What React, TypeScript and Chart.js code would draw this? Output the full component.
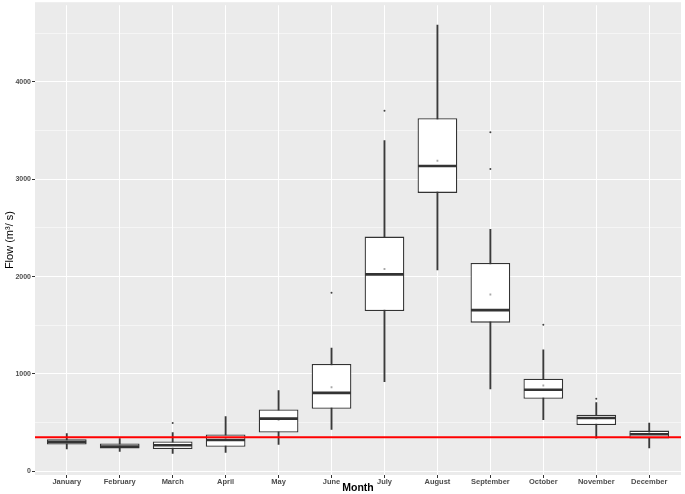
import React, { useEffect, useRef } from "react";
import { Chart, registerables } from "chart.js";

Chart.register(...registerables);

const months = [
  "January", "February", "March", "April", "May", "June",
  "July", "August", "September", "October", "November", "December",
];
const lowerWhisker = [231, 204, 184, 194, 276, 429, 921, 2068, 847, 531, 340, 241];
const q1 = [276, 235, 228, 251, 398, 643, 1646, 2860, 1527, 745, 476, 337];
const medians = [302, 255, 268, 322, 541, 806, 2023, 3136, 1656, 837, 547, 381];
const q3 = [330, 286, 306, 378, 636, 1102, 2411, 3626, 2139, 952, 582, 418];
const upperWhisker = [388, 337, 398, 561, 830, 1265, 3398, 4585, 2486, 1248, 707, 496];
const means = [305, 258, 272, 337, 530, 863, 2078, 3190, 1816, 881, 541, 394];
const outlierMonthIndex = [2, 5, 6, 8, 8, 9, 10];
const outlierValues = [496, 1833, 3704, 3483, 3105, 1506, 745];
const thresholdValue = 350;
const yTickValues = [0, 500, 1000, 1500, 2000, 2500, 3000, 3500, 4000, 4500];
const yLabelValues = [0, 1000, 2000, 3000, 4000];

const FONT = "'Liberation Sans', Arial, sans-serif";

const boxExtras = {
  id: "boxExtras",
  beforeDraw(chart: any) {
    const { ctx, chartArea } = chart;
    const top = Math.max(1, chartArea.top - 3);
    ctx.save();
    ctx.fillStyle = "#EBEBEB";
    ctx.fillRect(chartArea.left, top, chartArea.right - chartArea.left, chartArea.bottom - top);
    ctx.restore();
  },
  afterDatasetsDraw(chart: any) {
    const { ctx, chartArea, scales } = chart;
    const y = scales.y;
    const boxMeta = chart.getDatasetMeta(1);
    ctx.save();
    ctx.strokeStyle = "#333333";
    ctx.lineWidth = 2.6;
    boxMeta.data.forEach((el: any, i: number) => {
      const { x, width } = el.getProps(["x", "width"], true);
      const py = y.getPixelForValue(medians[i]);
      ctx.beginPath();
      ctx.moveTo(x - width / 2 + 0.5, py);
      ctx.lineTo(x + width / 2 - 0.5, py);
      ctx.stroke();
    });
    const ry = y.getPixelForValue(thresholdValue);
    ctx.strokeStyle = "#FF0000";
    ctx.lineWidth = 2.2;
    ctx.beginPath();
    ctx.moveTo(chartArea.left, ry);
    ctx.lineTo(chartArea.right, ry);
    ctx.stroke();
    ctx.restore();
  },
};

export default function App() {
  const canvasRef = useRef<HTMLCanvasElement | null>(null);

  useEffect(() => {
    document.body.style.margin = "0";
    const canvas = canvasRef.current;
    if (!canvas) return;
    const chart = new Chart(canvas, {
      type: "bar",
      data: {
        datasets: [
          {
            type: "bar",
            label: "whisker",
            data: months.map((_, i) => ({ x: i, y: [lowerWhisker[i], upperWhisker[i]] })) as any,
            backgroundColor: "#3A3A3A",
            barThickness: 1.2,
            grouped: false,
            order: 3,
          },
          {
            type: "bar",
            label: "box",
            data: months.map((_, i) => ({ x: i, y: [q1[i], q3[i]] })) as any,
            backgroundColor: "#FFFFFF",
            borderColor: "#333333",
            borderWidth: 1.3,
            borderSkipped: false,
            barPercentage: 0.75,
            categoryPercentage: 1,
            grouped: false,
            order: 2,
          },
          {
            type: "line",
            label: "mean",
            data: months.map((_, i) => ({ x: i, y: means[i] })) as any,
            showLine: false,
            pointStyle: "rect",
            pointRadius: 1.3,
            pointBorderWidth: 0,
            pointBackgroundColor: "#A8A8A8",
            order: 1,
          },
          {
            type: "line",
            label: "outliers",
            data: outlierValues.map((v, i) => ({ x: outlierMonthIndex[i], y: v })) as any,
            showLine: false,
            pointRadius: 1,
            pointBorderWidth: 0,
            pointBackgroundColor: "#444444",
            order: 1,
          },
        ],
      },
      options: {
        animation: false,
        responsive: true,
        maintainAspectRatio: false,
        devicePixelRatio: 1,
        layout: { padding: { top: 1, right: 1, left: 0, bottom: 0 } },
        plugins: { legend: { display: false }, tooltip: { enabled: false } },
        scales: {
          x: {
            type: "linear",
            offset: false,
            min: -0.6,
            max: 11.6,
            afterFit: (s: any) => {
              s.height = 19;
            },
            afterBuildTicks: (s: any) => { s.ticks = months.map((_, i) => ({ value: i })); },
            ticks: {
              autoSkip: false,
              maxRotation: 0,
              padding: -1,
              color: "#4D4D4D",
              font: { family: FONT, size: 7.5, weight: "bold" },
              callback: (v: any) => months[v as number] ?? "",
            },
            grid: { color: "#FFFFFF", lineWidth: 1, tickLength: 3, tickColor: "#333333", offset: false },
            border: { display: false },
            title: {
              display: true,
              text: "Month",
              color: "#000000",
              font: { family: FONT, size: 10.5, weight: "bold" },
              padding: { top: 0, bottom: 0 },
            },
          },
          y: {
            type: "linear",
            min: -38,
            max: 4788,
            afterFit: (s: any) => {
              s.width = 35;
            },
            afterBuildTicks: (s: any) => { s.ticks = yTickValues.map((v) => ({ value: v })); },
            ticks: {
              autoSkip: false,
              padding: 1,
              color: "#4D4D4D",
              font: { family: FONT, size: 7, weight: "bold" },
              callback: (v: any) => (yLabelValues.includes(v as number) ? String(v) : ""),
            },
            grid: {
              color: "#FFFFFF",
              lineWidth: (c: any) => (c.tick && c.tick.value % 1000 === 0 ? 1 : 0.5),
              tickLength: 3,
              tickColor: (c: any) => (c.tick && c.tick.value % 1000 === 0 ? "#333333" : "rgba(0,0,0,0)"),
            },
            border: { display: false },
            title: {
              display: true,
              text: "Flow (m³/ s)",
              color: "#000000",
              font: { family: FONT, size: 11 },
              padding: { top: 3, bottom: 0 },
            },
          },
        },
      } as any,
      plugins: [boxExtras],
    });
    return () => chart.destroy();
  }, []);

  return (
    <div style={{ width: 685, height: 494, position: "relative" }}>
      <canvas ref={canvasRef} />
    </div>
  );
}
